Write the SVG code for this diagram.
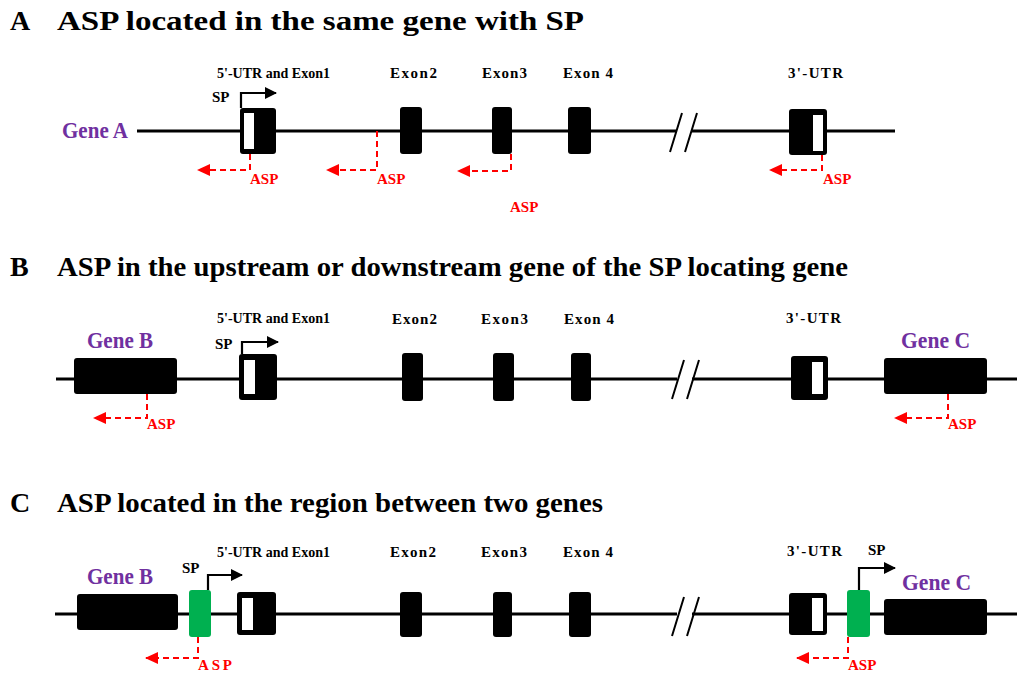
<svg xmlns="http://www.w3.org/2000/svg" width="1024" height="674" viewBox="0 0 1024 674">
<style>
text{font-family:"Liberation Serif","Times New Roman",serif;font-weight:bold}
.h{font-size:28px;fill:#000}
.lbl{font-size:15px;fill:#000}
.sp{font-size:15px;fill:#000}
.gene{font-size:23px;fill:#7030A0}
.asp{font-size:15px;fill:#FF0000}
.dna{stroke:#000;stroke-width:3;fill:none}
.sl{stroke:#000;stroke-width:2;fill:none}
.blk{fill:#000}
.wht{fill:#fff}
.grn{fill:#00B050}
.spa{stroke:#000;stroke-width:2.2;fill:none;marker-end:url(#ab)}
.aspa{stroke:#FF0000;stroke-width:2;stroke-dasharray:6,4;fill:none;marker-end:url(#ar)}
</style>
<defs>
<marker id="ab" markerUnits="userSpaceOnUse" markerWidth="12" markerHeight="12" refX="11" refY="6" orient="auto"><path d="M0,0 L12,6 L0,12 z" fill="#000"/></marker>
<marker id="ar" markerUnits="userSpaceOnUse" markerWidth="14" markerHeight="12" refX="12" refY="6" orient="auto"><path d="M0,0 L13,6 L0,12 z" fill="#FF0000"/></marker>
</defs>

<g id="headings">
<text class="h" x="10" y="30">A</text>
<text class="h" x="57" y="30" textLength="527" lengthAdjust="spacingAndGlyphs">ASP located in the same gene with SP</text>
<text class="h" x="10" y="276">B</text>
<text class="h" x="57" y="276" textLength="791" lengthAdjust="spacingAndGlyphs">ASP in the upstream or downstream gene of the SP locating gene</text>
<text class="h" x="10" y="512">C</text>
<text class="h" x="57" y="512" textLength="546" lengthAdjust="spacingAndGlyphs">ASP located in the region between two genes</text>
</g>

<!-- Panel A -->
<g id="panelA">
<g id="A-dna">
<path class="dna" d="M137,131 H677 M692,131 H895"/>
<path class="sl" d="M670,152 L682,113 M685,152 L697,113"/>
</g>
<text class="gene" x="62" y="138" textLength="66" lengthAdjust="spacingAndGlyphs">Gene A</text>
<g id="A-exon1">
<rect class="blk" x="240" y="108" width="36" height="46" rx="3"/>
<rect class="wht" x="244" y="113" width="10" height="36"/>
<text class="lbl" x="217" y="78" textLength="113" lengthAdjust="spacingAndGlyphs">5'-UTR and Exon1</text>
</g>
<g id="A-sp"><text class="sp" x="212" y="102">SP</text></g>
<g id="A-exon2"><rect class="blk" x="400" y="107" width="22" height="47" rx="3"/><text class="lbl" x="390" y="78" textLength="47" lengthAdjust="spacing">Exon2</text></g>
<g id="A-exon3"><rect class="blk" x="492" y="107" width="20" height="47" rx="3"/><text class="lbl" x="482" y="78" textLength="45" lengthAdjust="spacing">Exon3</text></g>
<g id="A-exon4"><rect class="blk" x="568" y="107" width="23" height="47" rx="3"/><text class="lbl" x="563" y="78" textLength="50" lengthAdjust="spacing">Exon 4</text></g>
<g id="A-utr3">
<rect class="blk" x="789" y="109" width="38" height="46" rx="3"/>
<rect class="wht" x="813" y="115" width="10" height="36"/>
<text class="lbl" x="788" y="78" textLength="55" lengthAdjust="spacing">3'-UTR</text>
</g>
<g id="A-asp-labels">
<text class="asp" x="250" y="184">ASP</text>
<text class="asp" x="377" y="184">ASP</text>
<text class="asp" x="510" y="212">ASP</text>
<text class="asp" x="823" y="184">ASP</text>
</g>
</g>

<!-- Panel B -->
<g id="panelB">
<g id="B-dna">
<path class="dna" d="M56,379 H677 M692,379 H1017"/>
<path class="sl" d="M672,399 L684,360 M687,399 L699,360"/>
</g>
<g id="B-geneB"><rect class="blk" x="74" y="358" width="103" height="36" rx="3"/><text class="gene" x="87" y="348" textLength="66" lengthAdjust="spacingAndGlyphs">Gene B</text></g>
<g id="B-exon1">
<rect class="blk" x="239" y="354" width="38" height="46" rx="3"/>
<rect class="wht" x="244" y="360" width="11" height="34"/>
<text class="lbl" x="217" y="323" textLength="113" lengthAdjust="spacingAndGlyphs">5'-UTR and Exon1</text>
</g>
<g id="B-sp"><text class="sp" x="215" y="349">SP</text></g>
<g id="B-exon2"><rect class="blk" x="402" y="353" width="21" height="48" rx="3"/><text class="lbl" x="392" y="324" textLength="45" lengthAdjust="spacing">Exon2</text></g>
<g id="B-exon3"><rect class="blk" x="493" y="353" width="21" height="48" rx="3"/><text class="lbl" x="481" y="324" textLength="47" lengthAdjust="spacing">Exon3</text></g>
<g id="B-exon4"><rect class="blk" x="571" y="353" width="20" height="48" rx="3"/><text class="lbl" x="564" y="324" textLength="50" lengthAdjust="spacing">Exon 4</text></g>
<g id="B-utr3">
<rect class="blk" x="791" y="356" width="37" height="44" rx="3"/>
<rect class="wht" x="812" y="362" width="11" height="32"/>
<text class="lbl" x="786" y="323" textLength="55" lengthAdjust="spacing">3'-UTR</text>
</g>
<g id="B-geneC"><rect class="blk" x="884" y="358" width="103" height="36" rx="3"/><text class="gene" x="901" y="348" textLength="69" lengthAdjust="spacingAndGlyphs">Gene C</text></g>
<g id="B-asp-labels">
<text class="asp" x="147" y="429">ASP</text>
<text class="asp" x="948" y="429">ASP</text>
</g>
</g>

<!-- Panel C -->
<g id="panelC">
<g id="C-dna">
<path class="dna" d="M55,614 H677 M692,614 H1017"/>
<path class="sl" d="M672,636 L684,597 M687,636 L699,597"/>
</g>
<g id="C-geneB"><rect class="blk" x="77" y="594" width="101" height="36" rx="3"/><text class="gene" x="87" y="584" textLength="66" lengthAdjust="spacingAndGlyphs">Gene B</text></g>
<g id="C-sp1"><rect class="grn" x="189" y="590" width="22" height="47" rx="3"/><text class="sp" x="182" y="573">SP</text></g>
<g id="C-exon1">
<rect class="blk" x="237" y="592" width="39" height="43" rx="3"/>
<rect class="wht" x="242" y="598" width="11" height="32"/>
<text class="lbl" x="217" y="557" textLength="113" lengthAdjust="spacingAndGlyphs">5'-UTR and Exon1</text>
</g>
<g id="C-exon2"><rect class="blk" x="400" y="592" width="22" height="45" rx="3"/><text class="lbl" x="390" y="557" textLength="46" lengthAdjust="spacing">Exon2</text></g>
<g id="C-exon3"><rect class="blk" x="493" y="592" width="19" height="45" rx="3"/><text class="lbl" x="481" y="557" textLength="46" lengthAdjust="spacing">Exon3</text></g>
<g id="C-exon4"><rect class="blk" x="569" y="592" width="22" height="45" rx="3"/><text class="lbl" x="563" y="557" textLength="50" lengthAdjust="spacing">Exon 4</text></g>
<g id="C-utr3">
<rect class="blk" x="789" y="593" width="38" height="42" rx="3"/>
<rect class="wht" x="812" y="598" width="11" height="33"/>
<text class="lbl" x="787" y="556" textLength="55" lengthAdjust="spacing">3'-UTR</text>
</g>
<g id="C-sp2"><rect class="grn" x="847" y="590" width="23" height="47" rx="3"/><text class="sp" x="868" y="555">SP</text></g>
<g id="C-geneC"><rect class="blk" x="884" y="599" width="103" height="36" rx="3"/><text class="gene" x="902" y="590" textLength="69" lengthAdjust="spacingAndGlyphs">Gene C</text></g>
<g id="C-asp-labels">
<text class="asp" x="198" y="670" textLength="34" lengthAdjust="spacing">ASP</text>
<text class="asp" x="848" y="670">ASP</text>
</g>
</g>

<g id="connectors">
<path class="spa" d="M241,108 V93 H276"/>
<path class="spa" d="M242,354 V342 H278"/>
<path class="spa" d="M208,590 V575 H242"/>
<path class="spa" d="M859,590 V568 H895"/>
<path class="aspa" d="M250,154 V170 H198"/>
<path class="aspa" d="M377,131 V170 H327"/>
<path class="aspa" d="M511,154 V171 H458"/>
<path class="aspa" d="M822,155 V170 H770"/>
<path class="aspa" d="M147,394 V418 H94"/>
<path class="aspa" d="M948,394 V418 H895"/>
<path class="aspa" d="M198,637 V658 H146"/>
<path class="aspa" d="M848,637 V658 H797"/>
</g>
</svg>
